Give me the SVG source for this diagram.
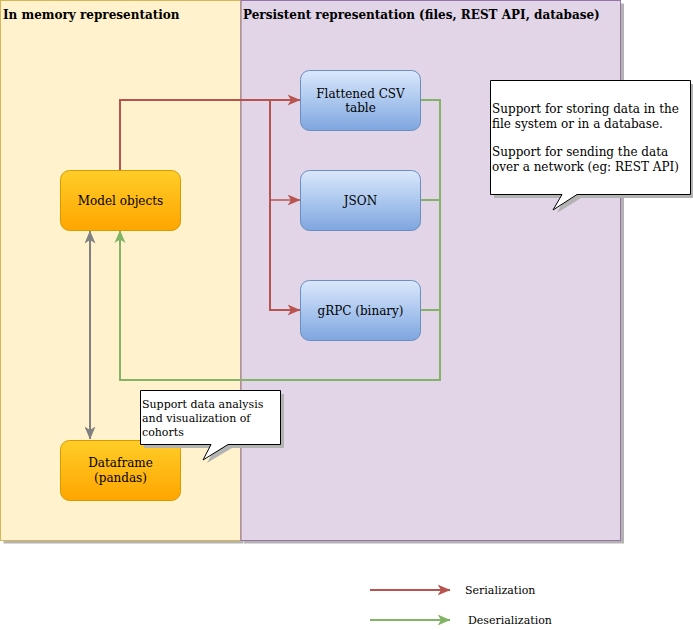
<svg xmlns="http://www.w3.org/2000/svg" width="693" height="630" viewBox="0 0 693 630">
<defs>
<linearGradient id="gOrange" x1="0" y1="0" x2="0" y2="1"><stop offset="0" stop-color="#ffcd28"/><stop offset="1" stop-color="#ffa500"/></linearGradient>
<linearGradient id="gBlue" x1="0" y1="0" x2="0" y2="1"><stop offset="0" stop-color="#dae8fc"/><stop offset="1" stop-color="#7ea6e0"/></linearGradient>
<marker id="aRed" viewBox="0 0 13 12" refX="12.5" refY="6" markerWidth="13" markerHeight="12" markerUnits="userSpaceOnUse" orient="auto"><path d="M0,0.5 L13,6 L0,11.5 L3.5,6 Z" fill="#b85450"/></marker>
<marker id="aGreen" viewBox="0 0 13 12" refX="12.5" refY="6" markerWidth="13" markerHeight="12" markerUnits="userSpaceOnUse" orient="auto"><path d="M0,0.5 L13,6 L0,11.5 L3.5,6 Z" fill="#82b366"/></marker>
<marker id="aGray" viewBox="0 0 13 12" refX="12.5" refY="6" markerWidth="13" markerHeight="12" markerUnits="userSpaceOnUse" orient="auto-start-reverse"><path d="M0,0.5 L13,6 L0,11.5 L3.5,6 Z" fill="#808080"/></marker>
</defs>
<style>
text{font-family:"DejaVu Serif","Liberation Serif",serif;fill:#000}
.title{font-size:12px;font-weight:bold}
.lbl{font-size:12px;text-anchor:middle}
.note{font-size:12px}
.note2{font-size:11px}
.orange{fill:url(#gOrange);stroke:#d79b00}
.blue{fill:url(#gBlue);stroke:#6c8ebf}
.red{fill:none;stroke:#b85450;stroke-width:2}
.green{fill:none;stroke:#82b366;stroke-width:2}
.callout{fill:#fff;stroke:#000}
.shadow{fill:#b3b3b3}
</style>
<g id="container-memory">
<rect class="shadow" x="3.5" y="3.5" width="240" height="540"/>
<rect x="0.5" y="0.5" width="240" height="540" fill="#fff2cc" stroke="#d6b656"/>
<text class="title" x="3" y="19">In memory representation</text>
</g>
<g id="container-persistent">
<rect class="shadow" x="244" y="3.5" width="380" height="540"/>
<rect x="241" y="0.5" width="379.5" height="540" fill="#e1d5e7" stroke="#9673a6"/>
<text class="title" x="243" y="19">Persistent representation (files, REST API, database)</text>
</g>
<g id="connectors">
<path class="red" d="M120,170 V100 H300" marker-end="url(#aRed)"/>
<path class="red" d="M270,100 V310 H300" marker-end="url(#aRed)"/>
<path class="red" d="M270,200 H300" marker-end="url(#aRed)" style="stroke-width:1.5"/>
<path class="green" d="M420,100 H440 V380 H120 V230.5" marker-end="url(#aGreen)"/>
<path class="green" d="M420,200 H440"/>
<path class="green" d="M420,310 H440"/>
<path d="M90,231 V439" fill="none" stroke="#808080" stroke-width="2" marker-start="url(#aGray)" marker-end="url(#aGray)"/>
</g>
<g id="model-objects">
<rect class="orange" x="60.5" y="170.5" width="120" height="60" rx="9"/>
<text class="lbl" x="120.5" y="205">Model objects</text>
</g>
<g id="dataframe">
<rect class="orange" x="60.5" y="440.5" width="120" height="60" rx="9"/>
<text class="lbl" x="120.5" y="467">Dataframe</text>
<text class="lbl" x="120.5" y="482">(pandas)</text>
</g>
<g id="csv">
<rect class="blue" x="300.5" y="70.5" width="120" height="60" rx="9"/>
<text class="lbl" x="360.5" y="98">Flattened CSV</text>
<text class="lbl" x="360.5" y="112">table</text>
</g>
<g id="json">
<rect class="blue" x="300.5" y="170.5" width="120" height="60" rx="9"/>
<text class="lbl" x="360.5" y="205">JSON</text>
</g>
<g id="grpc">
<rect class="blue" x="300.5" y="280.5" width="120" height="60" rx="9"/>
<text class="lbl" x="360.5" y="315">gRPC (binary)</text>
</g>
<g id="note-storage">
<path class="shadow" d="M494,84 H694 V198 H581 L557,213 L565,198 H494 Z"/>
<path class="callout" d="M490.5,80.5 H690.5 V194.5 H577 L553,210 L562,194.5 H490.5 Z"/>
<text class="note" x="492" y="113">Support for storing data in the</text>
<text class="note" x="492" y="128">file system or in a database.</text>
<text class="note" x="492" y="156">Support for sending the data</text>
<text class="note" x="492" y="171">over a network (eg: REST API)</text>
</g>
<g id="note-analysis">
<path class="shadow" d="M144,394 H284 V448 H232 L207,463 L215,448 H144 Z"/>
<path class="callout" d="M140.5,390.5 H280.5 V444.5 H228 L203,460 L211,444.5 H140.5 Z"/>
<text class="note2" x="142" y="408">Support data analysis</text>
<text class="note2" x="142" y="422">and visualization of</text>
<text class="note2" x="142" y="436">cohorts</text>
</g>
<g id="legend">
<path class="red" d="M370,590 H450" marker-end="url(#aRed)"/>
<text class="note2" x="465" y="594">Serialization</text>
<path class="green" d="M370,620 H450" marker-end="url(#aGreen)"/>
<text class="note2" x="468" y="624">Deserialization</text>
</g>
</svg>
